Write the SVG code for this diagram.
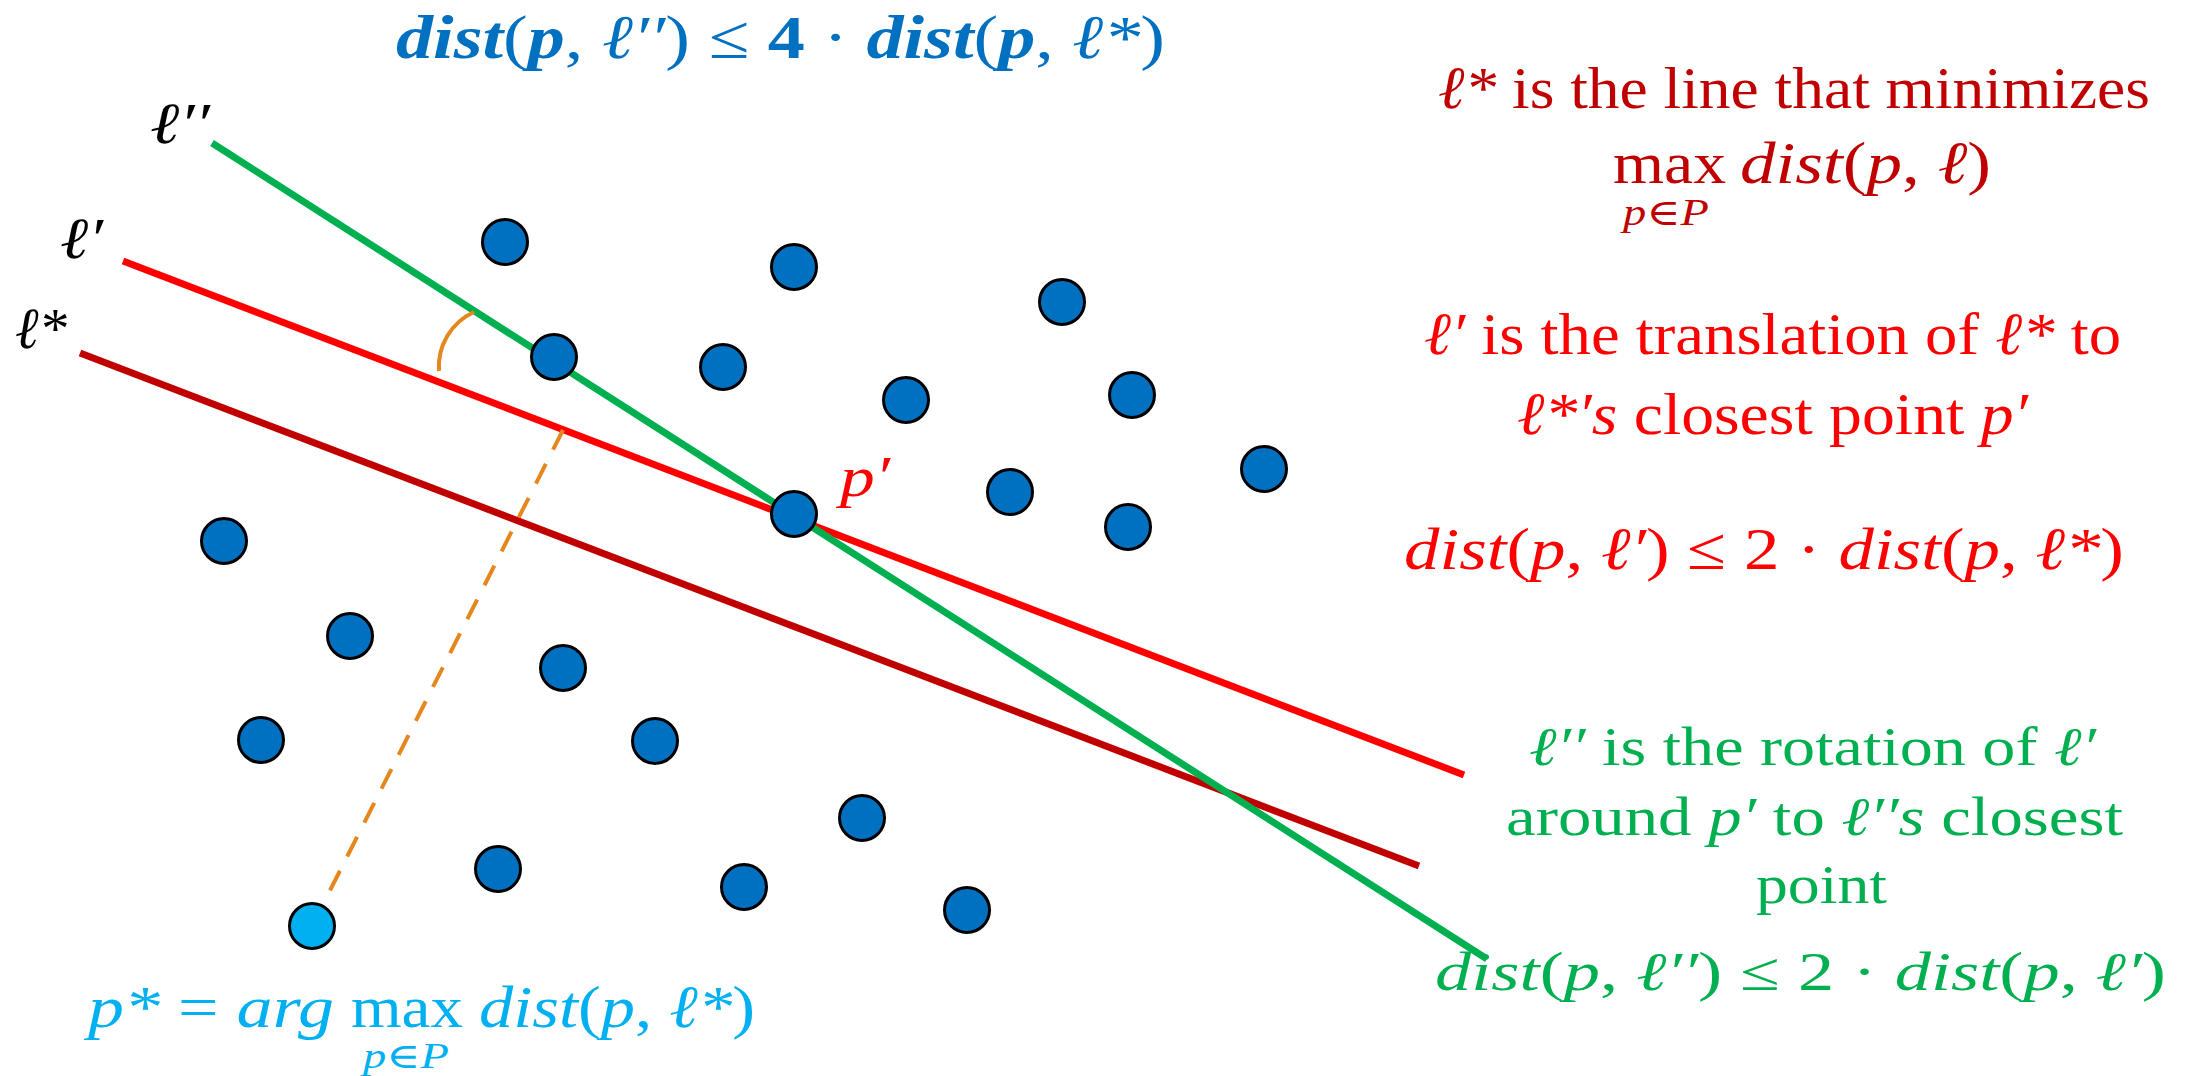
<svg xmlns="http://www.w3.org/2000/svg" width="2185" height="1076" viewBox="0 0 2185 1076">
<style>
.pt{fill:#0070C0;stroke:#000;stroke-width:3}
.ptl{fill:#00B0F0;stroke:#000;stroke-width:3}
.ln{stroke-width:7;fill:none;stroke-linecap:butt}
.or{stroke:#E5871C;stroke-width:4;fill:none}
text{font-family:"Liberation Serif","Times New Roman","DejaVu Serif",serif}
.i{font-style:italic}
.b{font-weight:bold}
.dr{fill:#C00000}
.r{fill:#FF0000}
.g{fill:#00B050}
.bl{fill:#0070C0}
.lb{fill:#00B0F0}
</style>
<rect width="2185" height="1076" fill="#fff"/>
<g id="lines">
<line id="l-star" x1="80" y1="353" x2="1419" y2="866" stroke="#C00000" class="ln"/>
<line id="l-prime" x1="123" y1="261" x2="1464" y2="775" stroke="#FF0000" class="ln"/>
<line id="l-dprime" x1="212" y1="143" x2="1487" y2="959" stroke="#00B050" class="ln"/>
<line id="dist-dash" x1="563" y1="430" x2="312" y2="926" class="or" stroke-dasharray="22 16"/>
<path id="angle-arc" d="M474 312 A60 60 0 0 0 439 371" class="or"/>
</g>
<g id="points">
<circle id="p1" class="pt" cx="505" cy="242" r="22.5"/>
<circle id="p2" class="pt" cx="794" cy="267" r="22.5"/>
<circle id="p3" class="pt" cx="1062" cy="302" r="22.5"/>
<circle id="p4" class="pt" cx="554" cy="357" r="22.5"/>
<circle id="p5" class="pt" cx="723" cy="367" r="22.5"/>
<circle id="p6" class="pt" cx="906" cy="400" r="22.5"/>
<circle id="p7" class="pt" cx="1132" cy="395" r="22.5"/>
<circle id="p8" class="pt" cx="1264" cy="469" r="22.5"/>
<circle id="p9" class="pt" cx="1010" cy="492" r="22.5"/>
<circle id="p-prime" class="pt" cx="794" cy="514" r="22.5"/>
<circle id="p10" class="pt" cx="1128" cy="527" r="22.5"/>
<circle id="p11" class="pt" cx="224" cy="541" r="22.5"/>
<circle id="p12" class="pt" cx="350" cy="636" r="22.5"/>
<circle id="p13" class="pt" cx="563" cy="668" r="22.5"/>
<circle id="p14" class="pt" cx="261" cy="740" r="22.5"/>
<circle id="p15" class="pt" cx="655" cy="741" r="22.5"/>
<circle id="p16" class="pt" cx="862" cy="818" r="22.5"/>
<circle id="p17" class="pt" cx="498" cy="869" r="22.5"/>
<circle id="p18" class="pt" cx="744" cy="887" r="22.5"/>
<circle id="p19" class="pt" cx="967" cy="910" r="22.5"/>
<circle id="p-star" class="ptl" cx="312" cy="926" r="22.5"/>
</g>
<g id="labels">
<text x="150" y="143" font-size="58" class="i" textLength="60" lengthAdjust="spacingAndGlyphs">ℓ′′</text>
<text x="60" y="258" font-size="58" class="i" textLength="43" lengthAdjust="spacingAndGlyphs">ℓ′</text>
<text x="15" y="348" font-size="58" class="i" textLength="52" lengthAdjust="spacingAndGlyphs">ℓ*</text>
<text x="840" y="496" font-size="56" class="i r" textLength="50" lengthAdjust="spacingAndGlyphs">p′</text>
</g>
<g id="top-formula">
<text x="396" y="58" font-size="62" class="bl" textLength="769" lengthAdjust="spacingAndGlyphs"><tspan class="i b">dist</tspan>(<tspan class="i b">p</tspan>, <tspan class="i">ℓ′′</tspan>) ≤ <tspan class="b">4</tspan> · <tspan class="i b">dist</tspan>(<tspan class="i b">p</tspan>, <tspan class="i">ℓ*</tspan>)</text>
</g>
<g id="text-lstar">
<text x="1438" y="108" font-size="60" class="dr" textLength="712" lengthAdjust="spacingAndGlyphs"><tspan class="i">ℓ*</tspan> is the line that minimizes</text>
<text x="1613" y="183" font-size="60" class="dr" textLength="113" lengthAdjust="spacingAndGlyphs">max</text>
<text x="1740" y="183" font-size="60" class="dr" textLength="251" lengthAdjust="spacingAndGlyphs"><tspan class="i">dist</tspan>(<tspan class="i">p</tspan>, <tspan class="i">ℓ</tspan>)</text>
<text x="1623" y="225" font-size="37" class="dr i" textLength="86" lengthAdjust="spacingAndGlyphs">p∈P</text>
</g>
<g id="text-lprime">
<text x="1424" y="354" font-size="60" class="r" textLength="697" lengthAdjust="spacingAndGlyphs"><tspan class="i">ℓ′</tspan> is the translation of <tspan class="i">ℓ*</tspan> to</text>
<text x="1517" y="434" font-size="60" class="r" textLength="511" lengthAdjust="spacingAndGlyphs"><tspan class="i">ℓ*′s</tspan> closest point <tspan class="i">p′</tspan></text>
<text x="1404" y="569" font-size="60" class="r" textLength="720" lengthAdjust="spacingAndGlyphs"><tspan class="i">dist</tspan>(<tspan class="i">p</tspan>, <tspan class="i">ℓ′</tspan>) ≤ 2 · <tspan class="i">dist</tspan>(<tspan class="i">p</tspan>, <tspan class="i">ℓ*</tspan>)</text>
</g>
<g id="text-ldprime">
<text x="1529" y="765" font-size="54" class="g" textLength="567" lengthAdjust="spacingAndGlyphs"><tspan class="i">ℓ′′</tspan> is the rotation of <tspan class="i">ℓ′</tspan></text>
<text x="1506" y="835" font-size="54" class="g" textLength="617" lengthAdjust="spacingAndGlyphs">around <tspan class="i">p′</tspan> to <tspan class="i">ℓ′′s</tspan> closest</text>
<text x="1756" y="903" font-size="54" class="g" textLength="131" lengthAdjust="spacingAndGlyphs">point</text>
<text x="1435" y="990" font-size="54" class="g" textLength="731" lengthAdjust="spacingAndGlyphs"><tspan class="i">dist</tspan>(<tspan class="i">p</tspan>, <tspan class="i">ℓ′′</tspan>) ≤ 2 · <tspan class="i">dist</tspan>(<tspan class="i">p</tspan>, <tspan class="i">ℓ′</tspan>)</text>
</g>
<g id="text-pstar">
<text x="88" y="1027" font-size="60" class="lb" textLength="246" lengthAdjust="spacingAndGlyphs"><tspan class="i">p*</tspan> = <tspan class="i">arg</tspan></text>
<text x="351" y="1027" font-size="60" class="lb" textLength="112" lengthAdjust="spacingAndGlyphs">max</text>
<text x="479" y="1027" font-size="60" class="lb" textLength="276" lengthAdjust="spacingAndGlyphs"><tspan class="i">dist</tspan>(<tspan class="i">p</tspan>, <tspan class="i">ℓ*</tspan>)</text>
<text x="363" y="1068" font-size="35" class="lb i" textLength="86" lengthAdjust="spacingAndGlyphs">p∈P</text>
</g>
</svg>
